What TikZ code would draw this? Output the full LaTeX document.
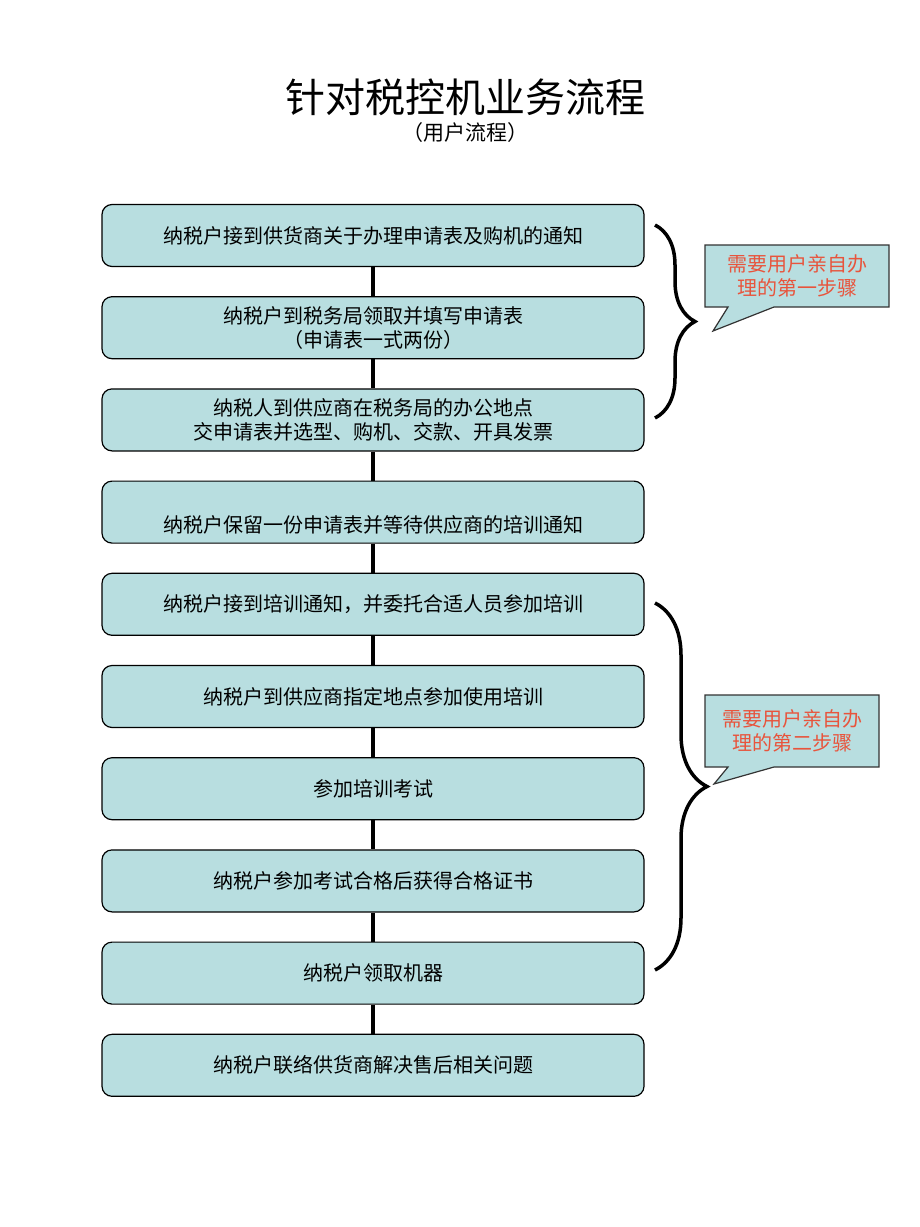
\documentclass[tikz,border=0pt]{standalone}
\usepackage{fontspec}
\setmainfont{Noto Sans CJK SC}
\usepackage{xcolor}
\usepackage{tikz}
\usetikzlibrary{positioning,shapes.callouts,decorations.pathreplacing}
\definecolor{boxfill}{RGB}{184,222,224}
\definecolor{notered}{RGB}{232,84,60}

\begin{document}
\begin{tikzpicture}[x=1pt, y=-1pt, node distance=92.2pt, thick,
	box/.style = {draw, rounded corners=10pt, fill=boxfill, line width=1.2pt, minimum width=542pt, minimum height=62pt, align=center, font=\fontsize{20}{24}\selectfont},
	link/.style = {line width=3.5pt},
	curly/.style = {line width=3.5pt, decorate},
	note/.style = {draw=black!80, fill=boxfill, line width=1.2pt, rectangle callout, callout pointer width=46pt, align=center, text=notered, font=\fontsize{20}{24}\selectfont}]
	\useasboundingbox (0,0) rectangle (920,1227);
	\node (title) at (465,97) {\fontsize{40}{44}\selectfont 针对税控机业务流程};
	\node (sub) at (465,133) {\fontsize{21}{24}\selectfont （用户流程）};
	\node[box] (1) at (373,235.5) {纳税户接到供货商关于办理申请表及购机的通知};
	\node[box] (2) [below of=1] {纳税户到税务局领取并填写申请表\\（申请表一式两份）};
	\node[box] (3) [below of=2] {纳税人到供应商在税务局的办公地点\\交申请表并选型、购机、交款、开具发票};
	\node[box] (4) [below of=3] {\strut\\纳税户保留一份申请表并等待供应商的培训通知};
	\node[box] (5) [below of=4] {纳税户接到培训通知，并委托合适人员参加培训};
	\node[box] (6) [below of=5] {纳税户到供应商指定地点参加使用培训};
	\node[box] (7) [below of=6] {参加培训考试};
	\node[box] (8) [below of=7] {纳税户参加考试合格后获得合格证书};
	\node[box] (9) [below of=8] {纳税户领取机器};
	\node[box] (10) [below of=9] {纳税户联络供货商解决售后相关问题};
	\foreach \a/\b in {1/2, 2/3, 3/4, 4/5, 5/6, 6/7, 7/8, 8/9, 9/10}
		\draw[link] (\a) -- (\b);
	% braces round the steps done in person
	\draw[curly, decoration={brace, amplitude=40pt}] (655,225) -- (655,418);
	\draw[curly, decoration={brace, amplitude=52pt}] (655,603) -- (655,970);
	\node[note, minimum width=184pt, minimum height=62pt, callout absolute pointer={(713,331)}] (n1) at (797,276) {需要用户亲自办\\理的第一步骤};
	\node[note, minimum width=174pt, minimum height=72pt, callout absolute pointer={(714,784)}] (n2) at (792,731) {需要用户亲自办\\理的第二步骤};
\end{tikzpicture}
\end{document}
